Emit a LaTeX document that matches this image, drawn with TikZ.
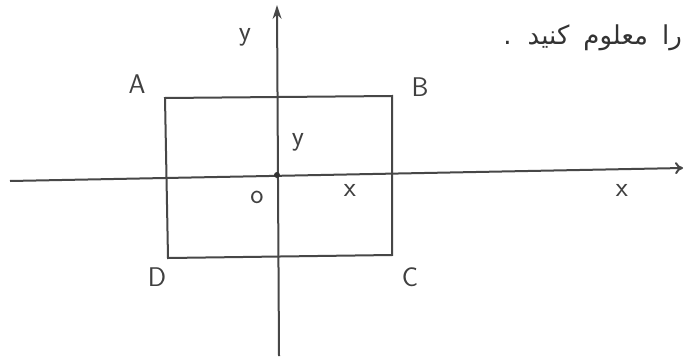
\documentclass[tikz,border=0pt]{standalone}
\usepackage{fontspec}
\usetikzlibrary{arrows.meta}
\TeXXeTstate=1
\newfontfamily\arabicfont[Script=Arabic]{DejaVu Sans}
\begin{document}
\begin{tikzpicture}[x=1pt,y=-1pt,
  ink/.style={draw=black!72, line width=2pt},
  lbl/.style={font=\sffamily\fontsize{27}{30}\selectfont, text=black!75, inner sep=0pt},
  lblsmall/.style={font=\sffamily\fontsize{28}{30}\selectfont, text=black!75, inner sep=0pt}]
\useasboundingbox (0,0) rectangle (684,356);
\fill[white] (0,0) rectangle (684,356);
% axes ends
\coordinate (xl) at (10,181);
\coordinate (xr) at (683,168);
\coordinate (yb) at (279,356);
\coordinate (yt) at (277,5);
\coordinate (O) at (277,175);
% rectangle corners
\coordinate (A) at (165,98);
\coordinate (B) at (392,96);
\coordinate (C) at (392,255);
\coordinate (D) at (168,258);
\draw[ink] (A) -- (B) -- (C) -- (D) -- cycle;
\draw[ink, -{To[length=8pt,width=12pt]}] (xl) -- (xr);
\draw[ink, -{Stealth[length=14pt,width=9pt]}] (yb) -- (yt);
\fill[black!80] (O) circle (3pt);
% labels
\node[lbl] (lA) at (137,84) {A};
\node[lbl] (lB) at (420,87) {B};
\node[lbl] (lC) at (410,277) {C};
\node[lbl] (lD) at (157,277) {D};
\node[lblsmall] (ly) at (298,142) {y};
\node[lblsmall] (lo) at (257,197) {o};
\node[lblsmall] (lx) at (350,190) {x};
\node[lblsmall] (lX) at (622,190) {x};
\node[lblsmall] (lY) at (245,37) {y};
\node[anchor=east, font=\arabicfont\fontsize{26}{30}\selectfont, text=black!80, inner sep=0pt] (txt) at (682,38) {\beginR را\hspace{14pt}معلوم\hspace{14pt}کنید\hspace{16pt}.\endR};
\end{tikzpicture}
\end{document}
